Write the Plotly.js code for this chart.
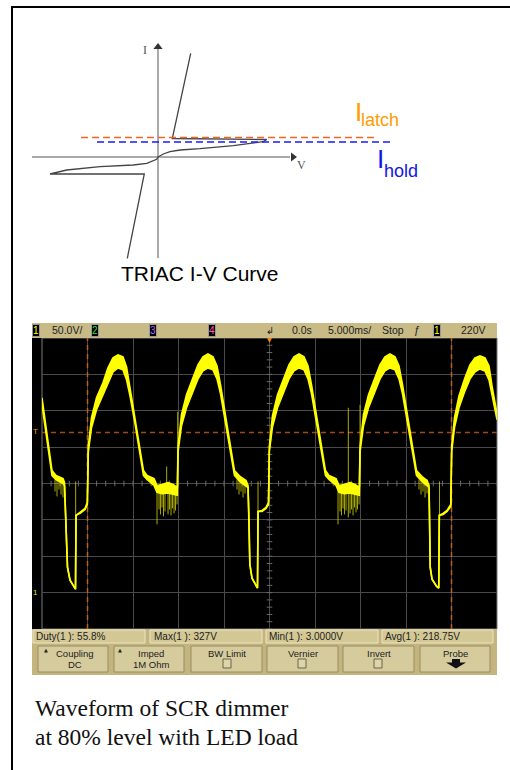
<!DOCTYPE html>
<html><head><meta charset="utf-8">
<script src="https://cdn.plot.ly/plotly-3.0.1.min.js"></script>
<style>html,body{margin:0;padding:0;background:#fff}#chart{width:510px;height:770px}</style>
</head><body><div id="chart"></div>
<script>
// ---------- Scope waveform (time in ms, voltage in V) ----------
const wfT = [-25.0,-24.78,-24.45,-24.12,-23.9,-23.46,-22.69,-22.53,-22.36,-22.2,-21.92,-21.48,-21.32,-21.26,-20.82,-20.27,-20.02,-19.91,-19.56,-19.01,-18.3,-17.75,-17.2,-16.65,-16.1,-15.71,-15.33,-14.78,-14.23,-13.85,
 -13.46,-12.69,-12.36,-11.81,-11.15,-10.6,-10.13,-10.05,
 -9.67,-9.12,-8.41,-7.86,-7.31,-6.76,-6.21,-5.77,-5.38,-4.89,-4.34,-3.85,
 -3.24,-2.58,-2.36,-2.25,-2.16,-1.92,-1.48,-1.32,-1.26,-0.82,-0.38,-0.11,-0.02,
 0.33,0.88,1.59,2.14,2.69,3.24,3.79,4.23,4.62,5.11,5.66,6.15,
 6.54,7.31,7.64,8.19,8.85,9.4,9.87,9.95,
 10.33,10.88,11.59,12.14,12.69,13.24,13.79,14.23,14.62,15.11,15.66,16.15,
 16.76,17.31,17.53,17.59,17.66,17.86,18.35,18.6,18.66,19.07,19.51,19.92,20.02,
 20.33,20.82,21.48,22.03,22.58,23.13,23.68,24.12,24.45,24.78,25.0];
const wfHi = [267.8,248.6,221.2,189.7,167.8,161.0,156.8,151.4,100.7,34.9,17.1,7.5,4.8,106.2,110.3,115.8,124.0,200.7,240.4,267.8,288.4,308.9,322.6,326.7,324.0,310.3,281.5,240.4,193.8,167.8,
 161.0,156.8,147.3,148.6,151.4,148.6,144.5,200.7,
 244.5,271.9,295.2,313.0,324.0,328.1,324.0,311.6,285.6,248.6,202.1,167.8,
 159.6,154.1,147.3,100.7,39.0,19.9,8.9,6.2,111.6,113.0,117.1,124.0,200.7,
 243.2,271.9,295.2,313.0,324.0,328.1,324.0,311.6,285.6,248.6,202.1,167.8,
 161.0,156.8,147.3,148.6,151.4,148.6,144.5,200.7,
 244.5,271.9,295.2,313.0,324.0,328.1,324.0,311.6,285.6,248.6,202.1,167.8,
 159.6,154.1,147.3,100.7,34.9,18.5,8.9,6.2,106.2,108.9,113.0,121.2,200.7,
 240.4,270.5,295.2,313.0,322.6,325.3,322.6,311.6,284.2,258.2,245.9];
const wfLo = [258.2,237.7,210.3,180.1,161.0,155.5,150.0,147.3,100.7,34.9,17.1,7.5,4.8,106.2,108.9,114.4,121.2,193.8,226.7,251.4,272.0,289.7,303.4,308.9,306.2,292.5,270.5,232.2,188.4,161.0,
 155.5,147.3,138.0,136.0,137.0,135.5,134.0,193.8,
 229.5,254.1,277.4,293.8,304.8,308.9,306.2,293.8,273.3,239.0,195.2,161.0,
 152.7,145.9,144.5,100.7,39.0,19.9,8.9,6.2,111.6,111.6,115.8,121.2,193.8,
 228.1,254.1,277.4,293.8,304.8,308.9,306.2,293.8,273.3,239.0,195.2,161.0,
 155.5,147.3,138.0,136.0,137.0,135.5,134.0,193.8,
 229.5,254.1,277.4,293.8,304.8,308.9,306.2,293.8,273.3,239.0,195.2,161.0,
 152.7,145.9,144.5,100.7,34.9,18.5,8.9,6.2,106.2,107.5,111.6,118.5,193.8,
 226.7,254.1,277.4,293.8,303.4,307.5,304.8,292.5,271.9,248.6,237.7];
// noise spikes
const spikeT = [-21.30,-1.26,18.68,-10.09,9.95,
 -12.36,-12.14,-11.98,-11.81,-11.65,-11.48,-11.30,-11.15,-10.99,-10.82,-10.66,-10.49,-10.33,-10.16,
 7.53,7.75,7.91,8.08,8.24,8.41,8.66,8.85,9.01,9.18,9.34,9.51,9.67,9.84,
 -23.57,-23.35,-23.13,-22.91,-22.69,-3.57,-3.35,-3.13,-2.91,-2.69,16.43,16.65,16.87,17.09,17.31];
const spikeTop = [152.7,152.7,152.7,248.6,258.2,
 144.5,144.5,144.5,144.5,144.5,144.5,173.3,144.5,144.5,144.5,144.5,144.5,144.5,144.5,
 144.5,144.5,144.5,144.5,144.5,144.5,254.1,144.5,144.5,144.5,144.5,144.5,144.5,144.5,
 155.5,155.5,155.5,155.5,155.5,155.5,155.5,155.5,155.5,155.5,155.5,155.5,155.5,155.5,155.5];
const spikeBot = [106.2,111.6,106.2,200.7,200.7,
 93.8,114.4,107.5,117.1,104.8,111.6,145.9,107.5,114.4,106.2,115.8,108.9,113.0,121.2,
 93.8,111.6,106.2,115.8,107.5,113.0,103.4,108.9,114.4,106.2,117.1,110.3,114.4,121.2,
 139.0,132.2,141.8,134.9,130.8,141.8,134.9,139.0,130.8,136.3,141.8,134.9,139.0,130.8,136.3];
const cursorT = [-20, 20];
const triggerLevel = 220;

// ---------- TRIAC I-V curve (arbitrary units) ----------
const triacV1 = [0,0.53,1.2,2.2,4.2,7.53,10.53,10.87,1.43,3.27];
const triacI1 = [0,0.3,0.53,0.7,0.83,1.13,1.53,1.75,1.85,10.37];
const triacV3 = [0,-0.13,-1.13,-2.47,-5.8,-9.13,-10.8,-1.37,-3.07];
const triacI3 = [0,-0.23,-0.63,-0.8,-0.97,-1.3,-1.7,-1.7,-10.13];
const latchV = [-7.7, 21.8], latchI = 1.95;
const holdV = [-6.1, 23.4], holdI = 1.5;
const axisVspan = [-12.6, 13.2], axisIspan = [-10.1, 10.8];

// ---------- texts ----------
const topBar = ["50.0V/","0.0s","5.000ms/","Stop","220V"];
const measLabels = ["Duty(1 ): 55.8%","Max(1 ): 327V","Min(1 ): 3.0000V","Avg(1 ): 218.75V"];
const buttonTop = ["Coupling","Imped","BW Limit","Vernier","Invert","Probe"];
const buttonBottom = ["DC","1M Ohm","","","",""];
const captionLines = ["Waveform of SCR dimmer","at 80% level with LED load"];

const W=510,H=770;
const px=x=>x/W, py=y=>1-y/H;
const SC = 'Liberation Sans, Arial, sans-serif';

const sx=[], sy=[];
spikeT.forEach((t,i)=>{sx.push(t,t,null); sy.push(spikeTop[i],spikeBot[i],null);});
const cx=[], cy=[];
cursorT.forEach(t=>{cx.push(t,t,null); cy.push(-50,350,null);});
const mtx=[],mty=[],mvx=[],mvy=[];
for(let t=-25;t<=25;t+=1){mtx.push(t);mty.push(150);}
for(let v=-50;v<=350;v+=10){mvx.push(0);mvy.push(v);}

const Y='#ffff00';
const traces = [
 {x:mtx,y:mty,mode:'markers',marker:{symbol:'line-ns-open',size:4,color:'#6a6a6a',line:{color:'#6a6a6a',width:1}}},
 {x:mvx,y:mvy,mode:'markers',marker:{symbol:'line-ew-open',size:4,color:'#6a6a6a',line:{color:'#6a6a6a',width:1}}},
 {x:cx,y:cy,mode:'lines',line:{color:'#b8601c',width:1.5,dash:'5px,4px'}},
 {x:[-25,25],y:[triggerLevel,triggerLevel],mode:'lines',line:{color:'#a04a14',width:1.5,dash:'5px,4px'}},
 {x:sx,y:sy,mode:'lines',line:{color:'#d4d400',width:0.8}},
 {x:wfT,y:wfHi,mode:'lines',line:{color:Y,width:1.6}},
 {x:wfT,y:wfLo,mode:'lines',line:{color:Y,width:1.6},fill:'tonexty',fillcolor:Y},
 // TRIAC
 {x:axisVspan,y:[0,0],xaxis:'x2',yaxis:'y2',mode:'lines',line:{color:'#555',width:1}},
 {x:[0,0],y:axisIspan,xaxis:'x2',yaxis:'y2',mode:'lines',line:{color:'#555',width:1}},
 {x:[0],y:[11.0],xaxis:'x2',yaxis:'y2',mode:'markers',marker:{symbol:'triangle-up',size:8,color:'#333'}},
 {x:[13.5],y:[0],xaxis:'x2',yaxis:'y2',mode:'markers',marker:{symbol:'triangle-right',size:8,color:'#333'}},
 {x:triacV1,y:triacI1,xaxis:'x2',yaxis:'y2',mode:'lines',line:{color:'#444',width:1.3}},
 {x:triacV3,y:triacI3,xaxis:'x2',yaxis:'y2',mode:'lines',line:{color:'#444',width:1.3}},
 {x:latchV,y:[latchI,latchI],xaxis:'x2',yaxis:'y2',mode:'lines',line:{color:'#f26522',width:1.5,dash:'7px,4px'}},
 {x:holdV,y:[holdI,holdI],xaxis:'x2',yaxis:'y2',mode:'lines',line:{color:'#1a1aff',width:1.5,dash:'7px,4px'}}
];

const shapes = [
 {type:'rect',xref:'paper',yref:'paper',x0:px(32),x1:px(497),y0:py(338),y1:py(629),fillcolor:'#000',line:{width:0},layer:'below'},
 {type:'rect',xref:'paper',yref:'paper',x0:px(42),x1:px(497),y0:py(338),y1:py(629),line:{color:'#7a7a7a',width:1},layer:'below'},
 {type:'rect',xref:'paper',yref:'paper',x0:px(32),x1:px(497),y0:py(323),y1:py(338),fillcolor:'#c8bb86',line:{width:0}},
 {type:'rect',xref:'paper',yref:'paper',x0:px(32),x1:px(497),y0:py(629),y1:py(675),fillcolor:'#c4b57e',line:{width:0}},
 {type:'rect',xref:'paper',yref:'paper',x0:px(12),x1:px(520),y0:py(7),y1:py(780),line:{color:'#000',width:2}}
];
[[33,145],[150,262],[266,378],[382,493]].forEach(b=>shapes.push({type:'rect',xref:'paper',yref:'paper',x0:px(b[0]),x1:px(b[1]),y0:py(630),y1:py(643),fillcolor:'#d3c894',line:{color:'#ece5c4',width:1}}));
const btns=[[38,108],[114,184],[191,262],[267,338],[343,414],[420,490]];
btns.forEach(b=>shapes.push({type:'rect',xref:'paper',yref:'paper',x0:px(b[0]),x1:px(b[1]),y0:py(646),y1:py(672),fillcolor:'#d6cb9c',line:{color:'#978c62',width:1}}));
[[223,231],[298,306],[374,382]].forEach(b=>shapes.push({type:'rect',xref:'paper',yref:'paper',x0:px(b[0]),x1:px(b[1]),y0:py(659),y1:py(668),fillcolor:'#ddd4ab',line:{color:'#6b6446',width:1}}));
const pp=(x,y)=>px(x)+','+py(y);
shapes.push({type:'path',xref:'paper',yref:'paper',path:'M'+pp(452,659)+' L'+pp(460,659)+' L'+pp(460,662.5)+' L'+pp(466,662.5)+' L'+pp(456,668.5)+' L'+pp(446,662.5)+' L'+pp(452,662.5)+' Z',fillcolor:'#111',line:{width:0}});

const ann = [];
const A=(o)=>ann.push(Object.assign({xref:'paper',yref:'paper',showarrow:false,xanchor:'left',yanchor:'middle'},o));
A({text:'TRIAC I-V Curve',x:px(200),y:py(273.5),xanchor:'center',font:{family:SC,size:21,color:'#000'}});
A({text:'I',x:px(352.5),y:py(111.7),font:{family:SC,size:26,color:'#ff9c00'}});
A({text:'latch',x:px(359),y:py(120.5),font:{family:SC,size:18,color:'#ff9c00'}});
A({text:'I',x:px(374.5),y:py(158.5),font:{family:SC,size:26,color:'#1414e6'}});
A({text:'hold',x:px(381.5),y:py(170.8),font:{family:SC,size:18,color:'#1414e6'}});
ann.push({xref:'x2',yref:'y2',x:-1.35,y:10.7,text:'I',showarrow:false,font:{family:'Liberation Serif, serif',size:12,color:'#555'}});
ann.push({xref:'x2',yref:'y2',x:14.35,y:-0.8,text:'V',showarrow:false,font:{family:'Liberation Serif, serif',size:12,color:'#555'}});
const tb=py(330.5);
const box=(t,x,c)=>A({text:t,x:px(x),y:tb,xanchor:'center',bgcolor:'#000',bordercolor:'#9a9a9a',borderwidth:1,borderpad:0,font:{family:SC,size:10,color:c}});
box('1',35.5,'#ffff00'); box('2',95,'#33dd33'); box('3',153,'#b060ff'); box('4',211.5,'#ff5aa8'); box('1',437,'#ffff00');
[[topBar[0],50],[topBar[1],290],[topBar[2],326],[topBar[3],380],[topBar[4],459]].forEach(p=>A({text:p[0],x:px(p[1]),y:tb,font:{family:SC,size:10.5,color:'#222'}}));
A({text:'ƒ',x:px(416.5),y:tb,xanchor:'center',font:{family:SC,size:11,color:'#222'}});
A({text:'↲',x:px(269.5),y:tb,xanchor:'center',font:{family:'DejaVu Sans',size:10,color:'#222'}});
A({text:'▼',x:px(269.5),y:py(339.5),xanchor:'center',font:{family:'DejaVu Sans',size:6,color:'#ff8a00'}});
A({text:'T',x:px(35),y:py(431),xanchor:'center',font:{family:SC,size:8,color:'#e0a800'}});
A({text:'1',x:px(35),y:py(592),xanchor:'center',font:{family:SC,size:8,color:'#e6e600'}});
[34,152,267,383].forEach((x,i)=>A({text:measLabels[i],x:px(x),y:py(636.5),font:{family:SC,size:10,color:'#222'}}));
btns.forEach((b,i)=>{const c=(b[0]+b[1])/2+(i<2?2:0);
 A({text:buttonTop[i],x:px(c),y:py(653),xanchor:'center',font:{family:SC,size:9.5,color:'#222'}});
 if(buttonBottom[i]) A({text:buttonBottom[i],x:px(c),y:py(664),xanchor:'center',font:{family:SC,size:9.5,color:'#222'}});
});
A({text:'▲',x:px(46),y:py(650),xanchor:'center',font:{family:'DejaVu Sans',size:5,color:'#222'}});
A({text:'▲',x:px(120),y:py(650),xanchor:'center',font:{family:'DejaVu Sans',size:5,color:'#222'}});
A({text:captionLines[0],x:px(33),y:py(707.5),font:{family:'Liberation Serif, Times New Roman, serif',size:23.5,color:'#111'}});
A({text:captionLines[1],x:px(33),y:py(737),font:{family:'Liberation Serif, Times New Roman, serif',size:23.5,color:'#111'}});

const layout = {
 width:W,height:H,margin:{l:0,r:0,t:0,b:0},paper_bgcolor:'#fff',plot_bgcolor:'rgba(0,0,0,0)',showlegend:false,
 xaxis:{domain:[px(42),px(497)],range:[-25,25],tick0:0,dtick:5,showgrid:true,gridcolor:'#4a4a4a',gridwidth:1,zeroline:false,showticklabels:false,ticks:'',showline:false,anchor:'y',fixedrange:true},
 yaxis:{domain:[py(629),py(338)],range:[-50,350],tick0:0,dtick:50,showgrid:true,gridcolor:'#4a4a4a',gridwidth:1,zeroline:false,showticklabels:false,ticks:'',showline:false,anchor:'x',fixedrange:true},
 xaxis2:{domain:[px(20),px(420)],range:[-13.8,26.2],visible:false,anchor:'y2'},
 yaxis2:{domain:[py(270),py(30)],range:[-11.3,12.7],visible:false,anchor:'x2'},
 shapes:shapes,annotations:ann
};
traces.forEach(t=>{t.showlegend=false; t.hoverinfo='skip'; if(t.xaxis==='x2') t.cliponaxis=false;});
Plotly.newPlot('chart',traces,layout,{displayModeBar:false,staticPlot:true});
</script></body></html>
